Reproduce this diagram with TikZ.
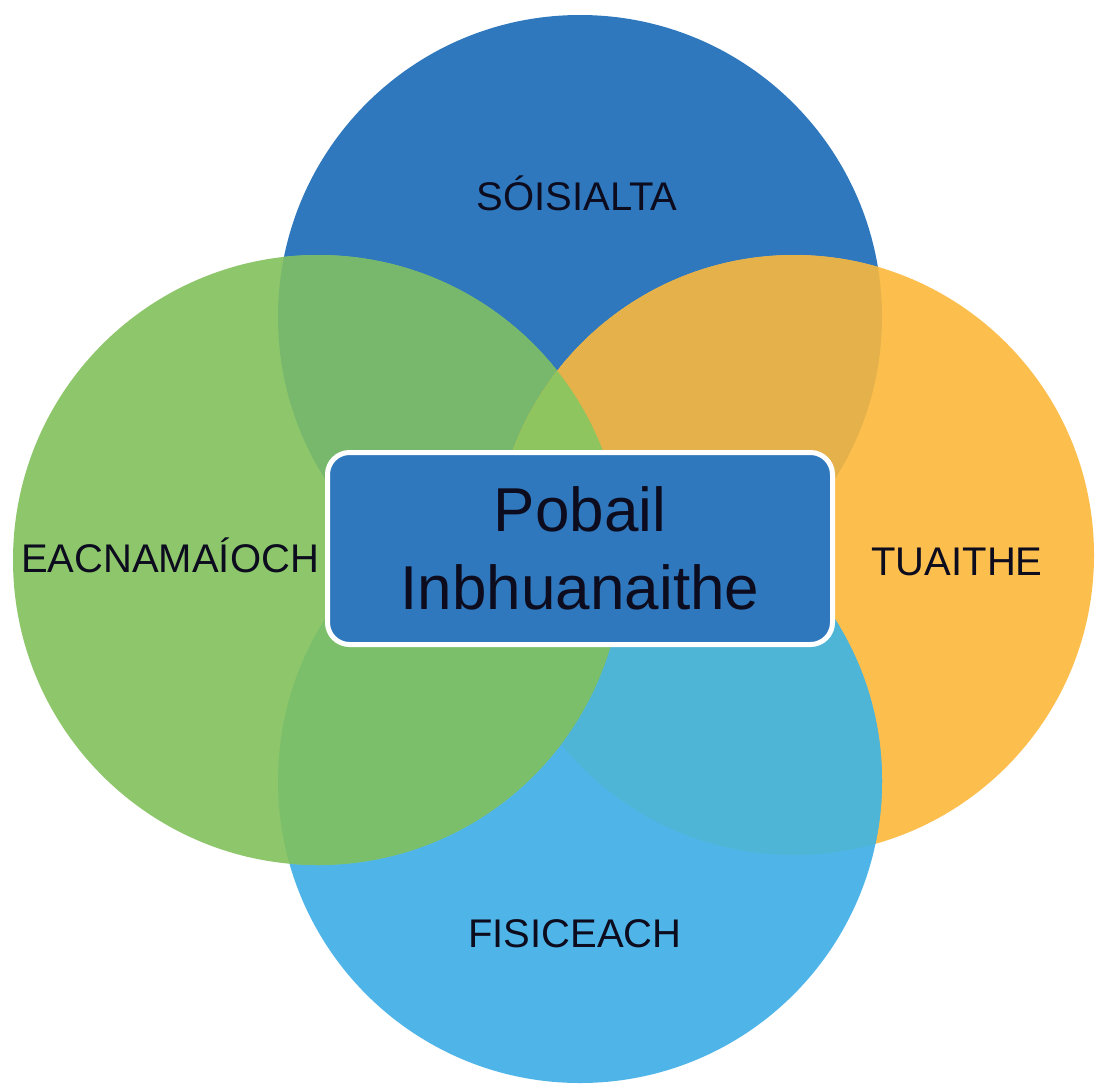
\documentclass[tikz,border=0pt]{standalone}
\usepackage{fontspec}
\setmainfont{Liberation Sans}
\definecolor{cTop}{RGB}{47,120,189}
\definecolor{cLeft}{RGB}{141,198,107}
\definecolor{cRight}{RGB}{252,191,77}
\definecolor{cBot}{RGB}{79,181,232}
\definecolor{cTL}{RGB}{119,184,108}
\definecolor{cTR}{RGB}{229,177,75}
\definecolor{cBR}{RGB}{78,181,214}
\definecolor{cBL}{RGB}{123,191,106}
\definecolor{cTLR}{RGB}{143,197,94}
\definecolor{cTxt}{RGB}{12,12,30}
\begin{document}
\begin{tikzpicture}[x=1pt,y=-1pt,
  lbl/.style={font=\fontsize{40}{48}\selectfont, anchor=base, inner sep=0pt, text=cTxt},
  centerbox/.style={rectangle, rounded corners=22pt, draw=white, line width=5pt, fill=cTop,
     minimum width=505pt, minimum height=192pt, inner sep=0pt, align=center,
     font=\fontsize{62}{78}\selectfont, text=cTxt}]
\useasboundingbox (0,0) rectangle (1097,1084);
\fill[white] (0,0) rectangle (1097,1084);
\coordinate (cT) at (580,317);
\coordinate (cL) at (318,560);
\coordinate (cR) at (794,555);
\coordinate (cB) at (580,781);
% base circles
\fill[cTop] (cT) circle[radius=302pt];
\fill[cRight] (cR) circle[radius=300pt];
\fill[cBot] (cB) circle[radius=302pt];
\fill[cLeft] (cL) circle[radius=305pt];
% overlaps with top
\begin{scope}
  \clip (cT) circle[radius=302pt];
  \fill[cTL] (cL) circle[radius=305pt];
  \fill[cTR] (cR) circle[radius=300pt];
\end{scope}
% overlaps with bottom
\begin{scope}
  \clip (cB) circle[radius=302pt];
  \fill[cBR] (cR) circle[radius=300pt];
  \fill[cBL] (cL) circle[radius=305pt];
\end{scope}
% triple overlap top-left-right
\begin{scope}
  \clip (cT) circle[radius=302pt];
  \clip (cL) circle[radius=305pt];
  \fill[cTLR] (cR) circle[radius=300pt];
\end{scope}
% labels
\node[lbl] (soc) at (577,210) {SÓISIALTA};
\node[lbl] (eac) at (170,572) {EACNAMAÍOCH};
\node[lbl] (tua) at (957,575) {TUAITHE};
\node[lbl] (fis) at (575,947) {FISICEACH};
% centre box
\node[centerbox] (pob) at (580,548.5) {Pobail\\Inbhuanaithe};
\end{tikzpicture}
\end{document}
